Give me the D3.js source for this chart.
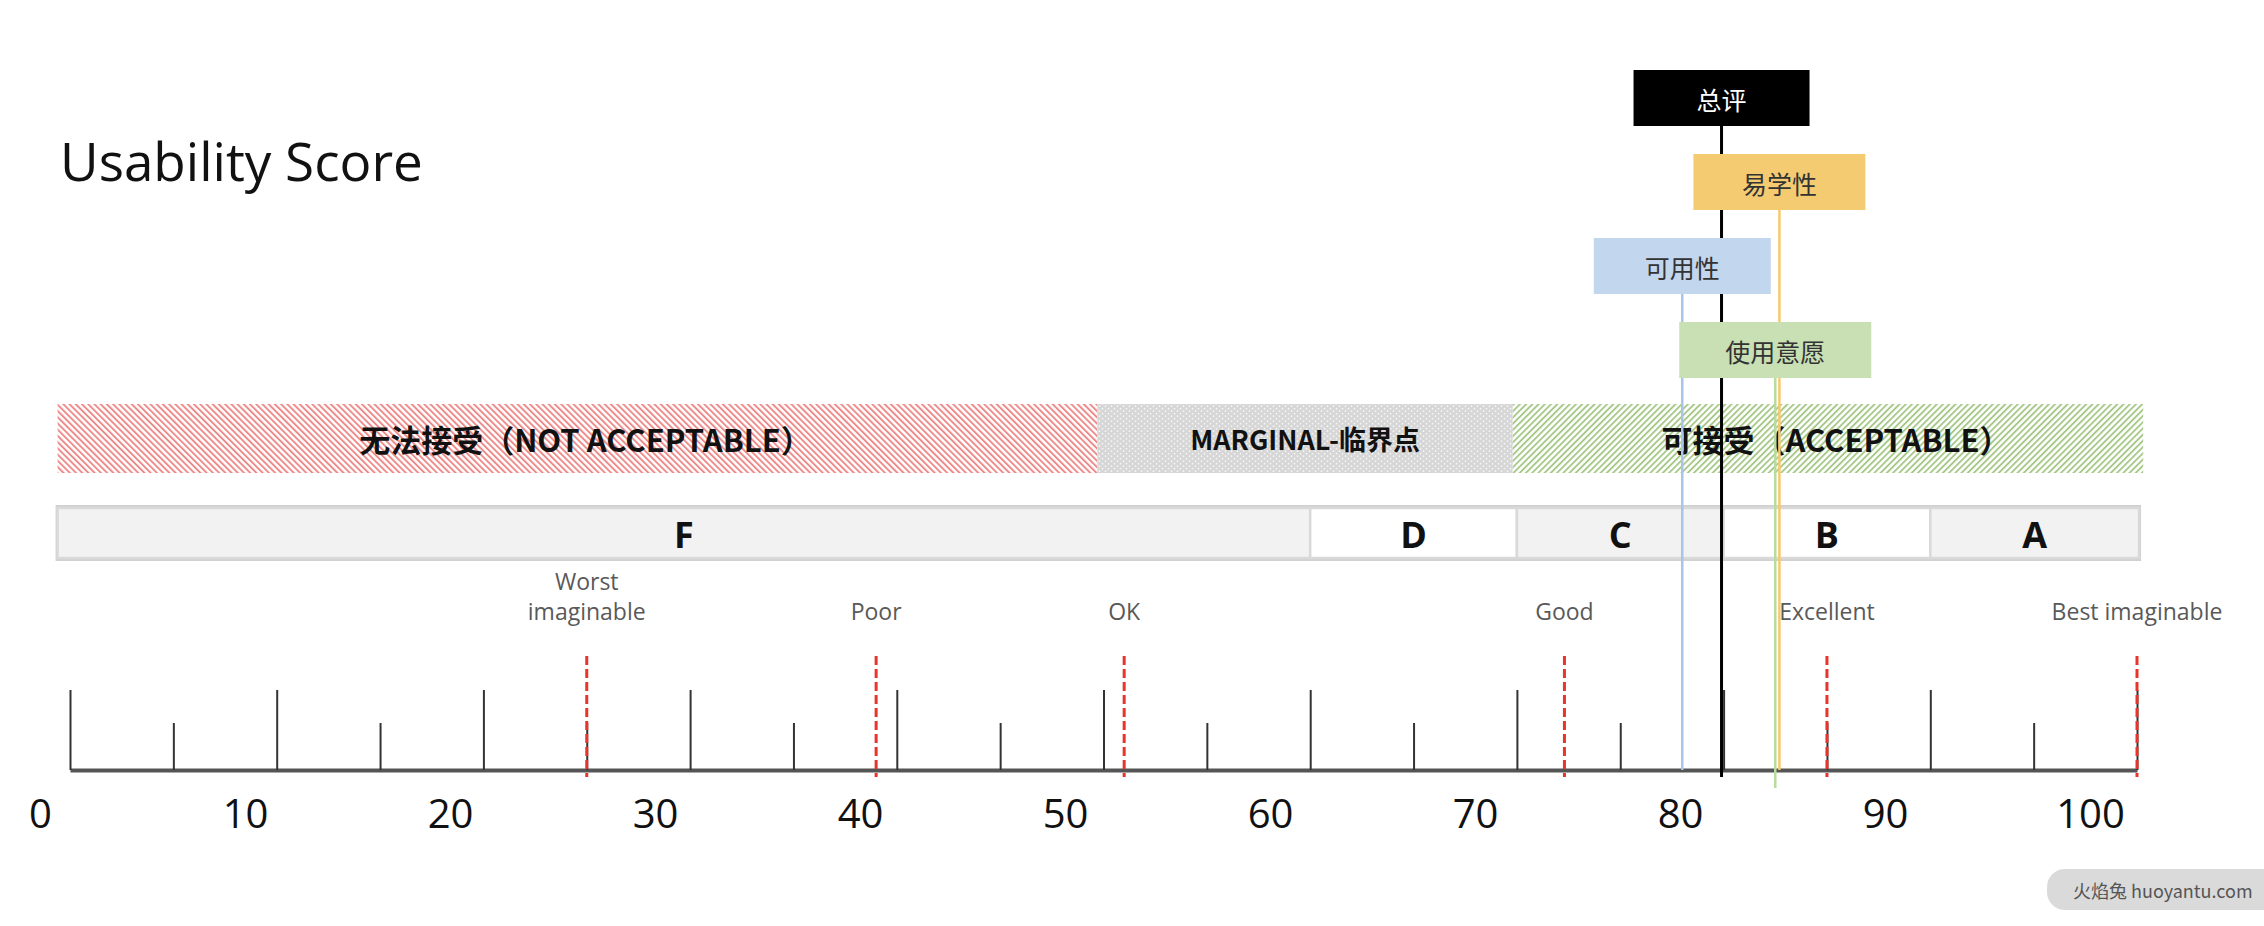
<!DOCTYPE html>
<html>
<head>
<meta charset="utf-8">
<script src="https://cdn.jsdelivr.net/npm/d3@7"></script>
<style>
	body { margin: 0; background: #fff; }
	text { font-family: "Open Sans", "Noto Sans CJK SC", sans-serif; }
	.cjk { font-family: "Noto Sans CJK SC", "Open Sans", sans-serif; }
</style>
</head>
<body>
<div id="chart-area"></div>
<script>

// SVG Size
var width = 2264,
	height = 926;

// score ticks
var majorTicks = [0, 10, 20, 30, 40, 50, 60, 70, 80, 90, 100];
var minorTicks = [5, 15, 25, 35, 45, 55, 65, 75, 85, 95];
var tickLabels = ["0", "10", "20", "30", "40", "50", "60", "70", "80", "90", "100"];

// acceptability ranges
var rangeNames = ["无法接受（NOT ACCEPTABLE）", "MARGINAL-临界点", "可接受（ACCEPTABLE）"];
var rangeEdges = [-0.6, 49.7, 69.8, 100.3];

// grade scale
var grades = ["F", "D", "C", "B", "A"];
var gradeEdges = [-0.6, 60, 70, 80, 90, 100.1];

// adjective ratings
var adjectives = ["Worst\nimaginable", "Poor", "OK", "Good", "Excellent", "Best imaginable"];
var adjectiveScores = [25, 39, 51, 72.3, 85, 100];

// measured scores
var indicators = ["总评", "易学性", "可用性", "使用意愿"];
var indicatorScores = [79.9, 82.7, 78, 82.5];


var svg = d3.select("#chart-area")
	.append("svg")
	.attr("width", width)
	.attr("height", height);

svg.append("rect").attr("width", width).attr("height", height).attr("fill", "#fff");

// scales
var x = d3.scaleLinear().domain([0, 100]).range([70, 2137]);
// the number labels on the slide don't sit exactly on the ticks
var labelX = d3.scaleLinear().domain([0, 100]).range([40, 2090]);

var rowY = d3.scalePoint().domain(indicators).range([70, 322]);

var indicatorColor = d3.scaleOrdinal()
	.domain(indicators)
	.range(["#000000", "#f5cb72", "#c2d6ee", "#c8e0b3"]);
var lineColor = d3.scaleOrdinal()
	.domain(indicators)
	.range(["#000000", "#f7c96b", "#a9c4ea", "#b6dca0"]);
var lineBottom = {"总评": 777, "易学性": 770, "可用性": 770, "使用意愿": 788};
var boxWidth = {"总评": 176, "易学性": 172, "可用性": 177, "使用意愿": 192};

// patterns for the acceptability bar
var defs = svg.append("defs");

var redHatch = defs.append("pattern")
	.attr("id", "redHatch")
	.attr("width", 4.4).attr("height", 10)
	.attr("patternUnits", "userSpaceOnUse")
	.attr("patternTransform", "rotate(-45)");
redHatch.append("rect").attr("width", 4.4).attr("height", 10).attr("fill", "#fff");
redHatch.append("line").attr("x1", 1).attr("y1", 0).attr("x2", 1).attr("y2", 10)
	.attr("stroke", "#ec8888").attr("stroke-width", 1.9);

var greenHatch = defs.append("pattern")
	.attr("id", "greenHatch")
	.attr("width", 4.4).attr("height", 10)
	.attr("patternUnits", "userSpaceOnUse")
	.attr("patternTransform", "rotate(45)");
greenHatch.append("rect").attr("width", 4.4).attr("height", 10).attr("fill", "#fff");
greenHatch.append("line").attr("x1", 1).attr("y1", 0).attr("x2", 1).attr("y2", 10)
	.attr("stroke", "#a3c683").attr("stroke-width", 1.8);

var dots = defs.append("pattern")
	.attr("id", "dots")
	.attr("width", 6).attr("height", 5)
	.attr("patternUnits", "userSpaceOnUse");
dots.append("rect").attr("width", 6).attr("height", 5).attr("fill", "#d6d6d6");
dots.append("circle").attr("cx", 1.5).attr("cy", 1.2).attr("r", 0.9).attr("fill", "#f6f6f6");
dots.append("circle").attr("cx", 4.5).attr("cy", 3.7).attr("r", 0.9).attr("fill", "#f6f6f6");

var rangeFills = ["url(#redHatch)", "url(#dots)", "url(#greenHatch)"];


// Title
svg.append("text")
	.attr("x", 60).attr("y", 181)
	.attr("font-size", 53)
	.attr("fill", "#111")
	.text("Usability Score");


// acceptability bar
var ranges = rangeNames.map(function (name, i) {
	return {name: name, from: rangeEdges[i], to: rangeEdges[i + 1], fill: rangeFills[i]};
});

var rangeG = svg.append("g");
rangeG.selectAll("rect").data(ranges).enter()
	.append("rect")
	.attr("x", function (d) {return x(d.from)})
	.attr("y", 404)
	.attr("width", function (d) {return x(d.to) - x(d.from)})
	.attr("height", 69)
	.attr("fill", function (d) {return d.fill});

rangeG.selectAll("text").data(ranges).enter()
	.append("text")
	.attr("class", "cjk")
	.attr("x", function (d, i) {return (x(d.from) + x(d.to)) / 2 + (i == 1 ? 0 : 8)})
	.attr("y", 438)
	.attr("text-anchor", "middle")
	.attr("dominant-baseline", "central")
	.attr("font-weight", "bold")
	.attr("font-size", function (d, i) {return i == 1 ? 27 : 31})
	.attr("fill", "#111")
	.text(function (d) {return d.name});


// grade bar
var gradeData = grades.map(function (g, i) {
	return {grade: g, from: gradeEdges[i], to: gradeEdges[i + 1]};
});

var gradeG = svg.append("g");
gradeG.append("rect")
	.attr("x", x(gradeEdges[0])).attr("y", 507)
	.attr("width", x(gradeEdges[gradeEdges.length - 1]) - x(gradeEdges[0]))
	.attr("height", 52)
	.attr("fill", "none")
	.attr("stroke", "#d0d0d0").attr("stroke-width", 4);

gradeG.selectAll(".cell").data(gradeData).enter()
	.append("rect")
	.attr("class", "cell")
	.attr("x", function (d) {return x(d.from)})
	.attr("y", 508)
	.attr("width", function (d) {return x(d.to) - x(d.from)})
	.attr("height", 50)
	.attr("fill", function (d, i) {return i % 2 == 0 ? "#f2f2f2" : "#ffffff"})
	.attr("stroke", "#d9d9d9").attr("stroke-width", 2.5);

gradeG.selectAll("text").data(gradeData).enter()
	.append("text")
	.attr("x", function (d) {return (x(d.from) + x(d.to)) / 2})
	.attr("y", 534)
	.attr("text-anchor", "middle")
	.attr("dominant-baseline", "central")
	.attr("font-weight", "bold")
	.attr("font-size", 36)
	.attr("fill", "#111")
	.text(function (d) {return d.grade});


// ruler axis (ticks point up)
var axisY = 770;

var majorAxis = d3.axisTop(x).tickValues(majorTicks).tickSize(80).tickSizeOuter(0).tickFormat("");
var minorAxis = d3.axisTop(x).tickValues(minorTicks).tickSize(47).tickSizeOuter(0).tickFormat("");

var major = svg.append("g")
	.attr("class", "axis")
	.attr("transform", "translate(0," + axisY + ")")
	.call(majorAxis);
var minor = svg.append("g")
	.attr("class", "axis")
	.attr("transform", "translate(0," + axisY + ")")
	.call(minorAxis);

major.selectAll(".tick line").attr("stroke", "#333").attr("stroke-width", 2);
minor.selectAll(".tick line").attr("stroke", "#333").attr("stroke-width", 2);
minor.select(".domain").remove();
major.select(".domain").attr("stroke", "#555").attr("stroke-width", 4);

var labelAxis = d3.axisBottom(labelX)
	.tickValues(majorTicks)
	.tickSize(0)
	.tickPadding(10)
	.tickFormat(function (d, i) {return tickLabels[i]});

var labels = svg.append("g")
	.attr("transform", "translate(0,790)")
	.call(labelAxis);
labels.select(".domain").remove();
labels.selectAll("text")
	.attr("font-size", 40)
	.attr("font-family", "'Open Sans', sans-serif")
	.attr("fill", "#111");


// adjective markers
var adjData = adjectives.map(function (a, i) {
	return {label: a, score: adjectiveScores[i]};
});

var adjG = svg.append("g");
adjG.selectAll("line").data(adjData).enter()
	.append("line")
	.attr("x1", function (d) {return x(d.score)})
	.attr("x2", function (d) {return x(d.score)})
	.attr("y1", 656)
	.attr("y2", 777)
	.attr("stroke", "#e8342b")
	.attr("stroke-width", 3)
	.attr("stroke-dasharray", "9,4");

adjG.selectAll("text").data(adjData).enter()
	.append("text")
	.attr("x", function (d) {return x(d.score)})
	.attr("text-anchor", "middle")
	.attr("font-size", 23)
	.attr("fill", "#595959")
	.each(function (d) {
		var lines = d.label.split("\n");
		var t = d3.select(this);
		lines.forEach(function (l, j) {
			t.append("tspan")
				.attr("x", x(d.score))
				.attr("y", 620 - (lines.length - 1 - j) * 30)
				.text(l);
		});
	});


// indicator lines + boxes
var indData = indicators.map(function (name, i) {
	return {name: name, score: indicatorScores[i]};
});

var indG = svg.append("g");
indG.selectAll("line").data(indData).enter()
	.append("line")
	.attr("x1", function (d) {return x(d.score)})
	.attr("x2", function (d) {return x(d.score)})
	.attr("y1", function (d) {return rowY(d.name) + 56})
	.attr("y2", function (d) {return lineBottom[d.name]})
	.attr("stroke", function (d) {return lineColor(d.name)})
	.attr("stroke-width", function (d) {return d.name == "总评" ? 3 : 2.5});

indG.selectAll("rect").data(indData).enter()
	.append("rect")
	.attr("x", function (d) {return x(d.score) - boxWidth[d.name] / 2})
	.attr("y", function (d) {return rowY(d.name)})
	.attr("width", function (d) {return boxWidth[d.name]})
	.attr("height", 56)
	.attr("fill", function (d) {return indicatorColor(d.name)});

indG.selectAll("text").data(indData).enter()
	.append("text")
	.attr("class", "cjk")
	.attr("x", function (d) {return x(d.score)})
	.attr("y", function (d) {return rowY(d.name) + 29})
	.attr("text-anchor", "middle")
	.attr("dominant-baseline", "central")
	.attr("font-size", 25)
	.attr("fill", function (d) {return d.name == "总评" ? "#fff" : "#333"})
	.text(function (d) {return d.name});


// watermark
svg.append("rect")
	.attr("x", 2047).attr("y", 869)
	.attr("width", 240).attr("height", 41)
	.attr("rx", 18)
	.attr("fill", "#dadada");
svg.append("text")
	.attr("class", "cjk")
	.attr("x", 2073).attr("y", 890)
	.attr("dominant-baseline", "central")
	.attr("font-size", 18)
	.attr("fill", "#555")
	.text("火焰兔 huoyantu.com");

</script>
</body>
</html>
